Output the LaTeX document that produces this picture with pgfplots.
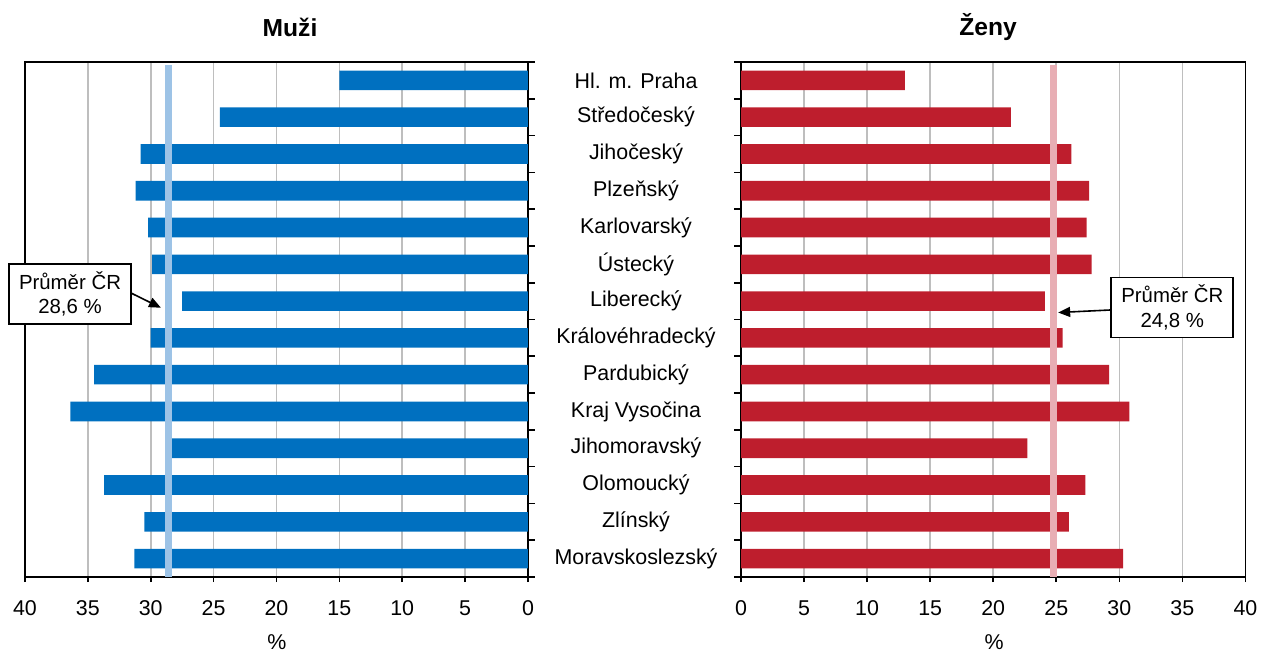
\documentclass[border=0pt]{standalone}
\usepackage{fontspec}
\setmainfont{Liberation Sans}
\usepackage{pgfplots}
\pgfplotsset{compat=1.18}
\usetikzlibrary{arrows.meta}
\definecolor{mblue}{RGB}{0,112,192}
\definecolor{fred}{RGB}{190,30,45}
\definecolor{mavg}{RGB}{157,195,230}
\definecolor{favg}{RGB}{232,174,180}
\definecolor{gridc}{RGB}{190,190,190}
\pgfplotsset{
  common/.style={
    scale only axis, height=257.5pt,
    ymin=-0.5, ymax=13.5, y dir=reverse,
    xmin=0, xmax=40, xtick={0,5,...,40},
    ytick={0,...,13},
    minor ytick={-0.5,0.5,...,13.5},
    major y tick style={draw=none},
    minor tick length=3.5pt, major tick length=2.5pt,
    tick align=outside,
    xtick pos=left,
    xmajorgrids, grid style={gridc, line width=0.8pt},
    axis line style={line width=0.8pt},
    every tick/.style={black, line width=0.8pt},
    minor y tick style={black, line width=0.8pt},
    /pgf/number format/assume math mode=true,
    xticklabel style={yshift=-5.5pt},
    clip=false,
  }
}
\begin{document}
\fontsize{10.7}{12.8}\selectfont
\begin{tikzpicture}
\path[use as bounding box] (0,0) rectangle (630.5pt,-325.5pt);
% Left: Muzi
\begin{axis}[common, at={(12.5pt,-288.5pt)}, anchor=south west,
  width=251.5pt, x dir=reverse, ytick pos=right, yticklabel=\empty]
\addplot[xbar, fill=mblue, draw=none, bar width=9.8pt] coordinates {
(15.0,0) (24.5,1) (30.8,2) (31.2,3) (30.2,4) (29.9,5) (27.5,6)
(30.0,7) (34.5,8) (36.4,9) (28.3,10) (33.7,11) (30.5,12) (31.3,13)};
\addplot[mavg, line width=3.5pt] coordinates {(28.6,-0.42) (28.6,13.5)};
\node[draw, fill=white, align=center, line width=0.8pt, minimum width=61pt,
  minimum height=30pt, inner sep=1pt, font=\fontsize{10.2}{12.2}\selectfont] at (axis cs:36.42,5.80) {Průměr ČR\\28,6 \%};
\draw[-{Triangle[length=6pt,width=5pt]}, line width=0.8pt] (axis cs:31.54,5.785) -- (axis cs:29.19,6.18);
\end{axis}
% Right: Zeny
\begin{axis}[common, at={(370.5pt,-288.5pt)}, anchor=south west,
  width=252.2pt, ytick pos=left,
  yticklabels={Hl. m. Praha, Středočeský, Jihočeský, Plzeňský, Karlovarský, Ústecký, Liberecký, Královéhradecký, Pardubický, Kraj Vysočina, Jihomoravský, Olomoucký, Zlínský, Moravskoslezský},
  yticklabel style={anchor=center, xshift=-50pt}]
\addplot[xbar, fill=fred, draw=none, bar width=9.8pt] coordinates {
(13.0,0) (21.4,1) (26.2,2) (27.6,3) (27.4,4) (27.8,5) (24.1,6)
(25.5,7) (29.2,8) (30.8,9) (22.7,10) (27.3,11) (26.0,12) (30.3,13)};
\addplot[favg, line width=3.5pt] coordinates {(24.8,-0.42) (24.8,13.5)};
\node[draw, fill=white, align=center, line width=0.8pt, minimum width=61pt,
  minimum height=30pt, inner sep=1pt, font=\fontsize{10.2}{12.2}\selectfont] at (axis cs:34.2,6.17) {Průměr ČR\\24,8 \%};
\draw[-{Triangle[length=6pt,width=5pt]}, line width=0.8pt] (axis cs:29.37,6.24) -- (axis cs:25.15,6.31);
\end{axis}
\node[font=\fontsize{12.3}{14}\selectfont\bfseries] at (145pt,-13.5pt) {Muži};
\node[font=\fontsize{12.3}{14}\selectfont\bfseries] at (494pt,-13.5pt) {Ženy};
\node at (138.5pt,-321pt) {\%};
\node at (497pt,-321pt) {\%};
\end{tikzpicture}
\end{document}
